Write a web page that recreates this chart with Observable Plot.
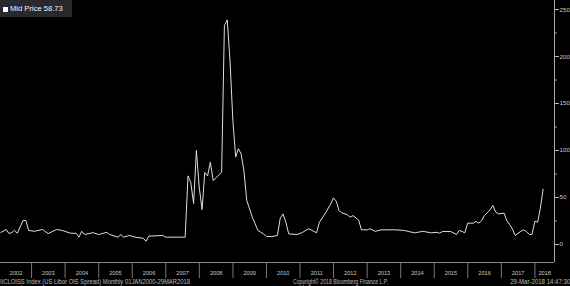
<!DOCTYPE html>
<html><head><meta charset="utf-8">
<script src="https://cdn.jsdelivr.net/npm/d3@7"></script>
<script src="https://cdn.jsdelivr.net/npm/@observablehq/plot@0.6"></script>
<style>
html,body{margin:0;padding:0;background:#000;}
#wrap{position:relative;width:570px;height:286px;overflow:hidden;font-family:"Liberation Sans",Arial,sans-serif;}
#wrap svg{display:block;background:linear-gradient(to bottom,#1c1c21 0px,#0e0e12 140px,#050508 262px,#000 262px,#000 286px);}
#title{position:absolute;left:0;top:0;width:72px;height:17px;background:#28282d;color:#f2f2f2;font-size:7.6px;line-height:17px;white-space:nowrap;}
#title .sq{display:inline-block;width:5px;height:5px;background:#fff;margin:0 2px 0 3px;vertical-align:-0.5px;}
#cap{position:absolute;left:0;top:278px;width:570px;height:8px;font-size:6.6px;line-height:8px;color:#bdbdbd;white-space:nowrap;}
#cap span{position:absolute;top:0;}
</style>
</head><body>
<div id="wrap">
  <div id="chart"></div>
  <div id="title"><span class="sq"></span><span id="ttext"></span></div>
  <div id="cap"><span id="c1" style="left:0"></span><span id="c2" style="left:293px"></span><span id="c3" style="right:0"></span></div>
</div>
<script>
// ---- data (monthly, plotted at month end) ----
const months = ["2002-01","2002-03","2002-04","2002-05","2002-06","2002-07","2002-09","2002-10","2002-11",
"2003-01","2003-04","2003-06","2003-09","2003-11",
"2004-02","2004-04","2004-05","2004-06","2004-07","2004-10","2004-12",
"2005-03","2005-04","2005-07","2005-08","2005-09","2005-11",
"2006-01","2006-04","2006-05","2006-06","2006-11","2006-12",
"2007-05","2007-07","2007-08","2007-09","2007-10","2007-11","2007-12",
"2008-01","2008-02","2008-03","2008-04","2008-05","2008-08","2008-09","2008-10","2008-11","2008-12",
"2009-01","2009-02","2009-03","2009-04","2009-05","2009-07","2009-09","2009-10","2009-11","2009-12",
"2010-02","2010-04","2010-05","2010-06","2010-07","2010-08","2010-11",
"2011-01","2011-03","2011-04","2011-06","2011-07","2011-09","2011-11","2011-12",
"2012-01","2012-02","2012-03","2012-05","2012-06","2012-07","2012-09","2012-10","2012-12",
"2013-01","2013-03","2013-05","2013-10",
"2014-01","2014-02","2014-03","2014-05","2014-08","2014-11",
"2015-01","2015-02","2015-03","2015-06","2015-08","2015-09","2015-10","2015-11","2015-12",
"2016-02","2016-03","2016-04","2016-05","2016-06","2016-08","2016-09","2016-10","2016-11",
"2017-01","2017-02","2017-03","2017-04","2017-05","2017-07","2017-08","2017-09","2017-10","2017-11","2017-12",
"2018-01","2018-02","2018-03"];
const spread = [12.8,16,11.7,12.7,15,12,25.5,25.5,15,
14,16,11.5,16,15,
12,12,7.8,14,10.6,12.6,10.6,
13,10.6,7.8,10.6,7.8,9.6,
7.8,6.7,3.5,8.9,9.6,7.8,
7.8,7.8,73,66,43.6,100,61,
37,76.6,73,87.6,68,77,233,239,196,132,
93,102,96.5,79,47,29,15,13,11.3,8.5,
8.5,9.6,28,32.6,23.7,11.3,10.6,
13,16.7,15.6,12.4,23.7,32.6,43,49.6,
46,36,33.7,31.6,29,30.8,26,15.6,15.6,
16.7,14,15.6,15.6,
15,14.5,13.8,12.4,14,12.4,
13,12,13.8,13.8,10.6,15,13.8,12.4,22.7,
22.7,24.5,22.7,25.5,30.8,36.9,41.5,34.4,32.6,
33.3,25.5,21.3,16.7,9.6,14,15.6,13.8,10.6,10.6,24.8,
23.7,38,58.73];
const yearLabels = ["2002","2003","2004","2005","2006","2007","2008","2009","2010","2011","2012","2013","2014","2015","2016","2017","2018"];
const yMajor = [0,50,100,150,200,250];
const yMinor = [25,75,125,175,225];
const titleText = "Mid Price 58.73";
const captionLeft = "IICLOISS Index (US Libor OIS Spread)  Monthly 01JAN2000-29MAR2018";
const captionMid = "Copyright\u00A9 2018 Bloomberg Finance L.P.";
const captionRight = "29-Mar-2018 14:47:30";

// ---- build ----
const parse = d3.utcParse("%Y-%m");
const data = months.map((m, i) => ({date: d3.utcDay.offset(d3.utcMonth.offset(parse(m), 1), -1), value: spread[i]}));
const xStart = new Date(Date.UTC(2002, 0, 28));
const xEnd = new Date(Date.UTC(2018, 7, 2));
const yearStarts = yearLabels.slice(1).map(y => new Date(Date.UTC(+y, 0, 1)));
const labelPos = yearLabels.map(y => {
  const a = Math.max(+new Date(Date.UTC(+y, 0, 1)), +xStart);
  const b = Math.min(+new Date(Date.UTC(+y + 1, 0, 1)), +xEnd);
  return new Date((a + b) / 2);
});
const yMin = -19.15, yMax = 259.6;

const chart = Plot.plot({
  width: 570, height: 286,
  marginTop: 0, marginBottom: 24, marginLeft: 0, marginRight: 16,
  style: {background: "transparent", color: "#c8c8c8", fontSize: "6px", fontFamily: "'Liberation Sans',Arial,sans-serif"},
  x: {type: "utc", domain: [xStart, xEnd]},
  y: {domain: [yMin, yMax]},
  marks: [
    Plot.axisY(yMajor, {anchor: "right", tickSize: 4, tickPadding: 1, stroke: "#bbb", fill: "#c8c8c8", fontSize: 6.2, label: null}),
    Plot.axisY(yMinor, {anchor: "right", tickSize: 2, tickFormat: () => "", stroke: "#999", label: null}),
    Plot.axisX(yearStarts, {anchor: "bottom", tickSize: 16, tickFormat: () => "", stroke: "#777", label: null}),
    Plot.axisX(labelPos, {anchor: "bottom", tickSize: 0, tickPadding: 9, tickFormat: d => String(d.getUTCFullYear()), fill: "#c8c8c8", fontSize: 5.6, label: null}),
    Plot.ruleY([yMin], {stroke: "#888"}),
    Plot.ruleX([xEnd], {stroke: "#aaa"}),
    Plot.lineY(data, {x: "date", y: "value", stroke: "#dedede", strokeWidth: 1, clip: true})
  ]
});
document.getElementById("chart").appendChild(chart);
document.getElementById("ttext").textContent = titleText;
const caps = [["c1", captionLeft, 190, "left"], ["c2", captionMid, 95, "left"], ["c3", captionRight, 60, "right"]];
for (const [id, txt, target, origin] of caps) {
  const el = document.getElementById(id);
  el.textContent = txt;
  const w = el.getBoundingClientRect().width;
  if (w > 0) { el.style.transformOrigin = origin + " center"; el.style.transform = `scaleX(${target / w})`; }
}
</script>
</body></html>
